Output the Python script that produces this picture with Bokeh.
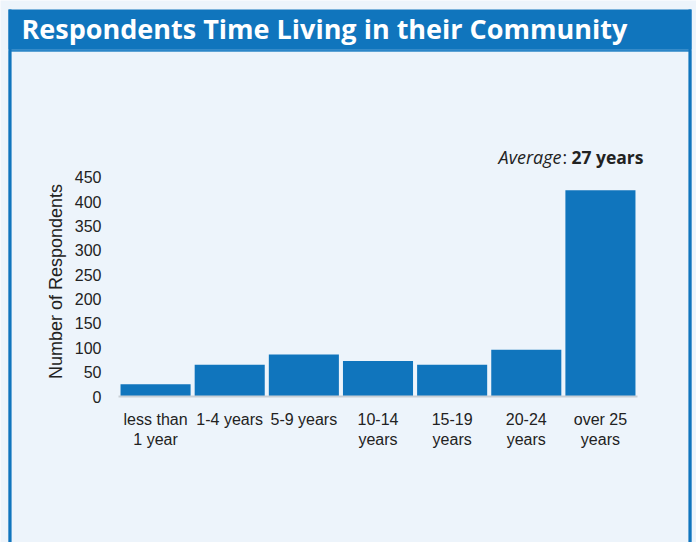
import math
from bokeh.plotting import figure
from bokeh.models import BoxAnnotation, Label, Range1d, FixedTicker
from bokeh.embed import file_html
from bokeh.resources import INLINE

categories = ["less than 1 year", "1-4 years", "5-9 years", "10-14 years",
              "15-19 years", "20-24 years", "over 25 years"]
tick_labels = ["less than\n1 year", "1-4 years", "5-9 years", "10-14\nyears",
               "15-19\nyears", "20-24\nyears", "over 25\nyears"]
respondents = [25, 65, 86, 73, 65, 96, 423]
y_ticks = [0, 50, 100, 150, 200, 250, 300, 350, 400, 450]
title_text = "Respondents Time Living in their Community"
y_title = "Number of Respondents"
avg_label = "Average"
avg_value = "27 years"

BLUE = "#1075bd"
BLUE_LIGHT = "#2c86c8"
BG = "#edf4fb"
TXT = "#222222"

W, H = 696, 542
# frame covers the whole canvas; plot region: x 118..637 px, y 396 (0) .. 176.7 (450) px
px_per_cat = (637 - 118) / len(categories)
px_per_unit = (396 - 176.7) / 450
x_start = -0.5 - 118 / px_per_cat
x_end = len(categories) - 0.5 + (W - 637) / px_per_cat
y_start = -(H - 396) / px_per_unit
y_end = 396 / px_per_unit

positions = list(range(len(categories)))

p = figure(width=W, height=H, x_range=Range1d(x_start, x_end), y_range=Range1d(y_start, y_end),
           output_backend="svg", toolbar_location=None, title=None,
           min_border=0, min_border_left=0, min_border_right=0, min_border_top=0, min_border_bottom=0)
p.background_fill_color = BG
p.border_fill_color = BG
p.outline_line_color = None
p.grid.visible = False

p.vbar(x=positions, top=respondents, width=0.945, fill_color=BLUE, line_color=None)

xa = p.xaxis[0]
xa.fixed_location = 0
xa.bounds = (-0.5, len(categories) - 0.5)
xa.ticker = FixedTicker(ticks=positions)
xa.major_label_overrides = {i: t for i, t in zip(positions, tick_labels)}
xa.axis_line_color = "#c9cfd6"
xa.axis_line_width = 2
xa.major_tick_line_color = None
xa.minor_tick_line_color = None
xa.major_label_text_font = "Liberation Sans"
xa.major_label_text_font_size = "16px"
xa.major_label_text_color = TXT
xa.major_label_standoff = 8

ya = p.yaxis[0]
ya.fixed_location = -0.5
ya.ticker = FixedTicker(ticks=y_ticks)
ya.axis_line_color = None
ya.major_tick_line_color = None
ya.minor_tick_line_color = None
ya.major_label_text_font = "Liberation Sans"
ya.major_label_text_font_size = "16px"
ya.major_label_text_color = TXT
ya.major_label_standoff = 11

# y axis title, centred on the plotting region
p.add_layout(Label(x=55, y=H - 281, x_units="screen", y_units="screen", text=y_title,
                   angle=math.pi / 2, text_color=TXT, text_font="Liberation Sans",
                   text_font_size="18px", text_baseline="middle", text_align="center"))

# panel border (screen units measured from the frame's bottom-left)
p.add_layout(BoxAnnotation(left=9.4, right=689.6, top=H - 50, bottom=-20,
                           left_units="screen", right_units="screen",
                           top_units="screen", bottom_units="screen",
                           fill_alpha=0, line_color=BLUE_LIGHT, line_width=2.6, line_alpha=1))
p.add_layout(BoxAnnotation(left=8, right=11, top=H - 9, bottom=-20,
                           left_units="screen", right_units="screen",
                           top_units="screen", bottom_units="screen",
                           fill_color=BLUE, fill_alpha=1, line_alpha=0))
p.add_layout(BoxAnnotation(left=688, right=691, top=H - 9, bottom=-20,
                           left_units="screen", right_units="screen",
                           top_units="screen", bottom_units="screen",
                           fill_color=BLUE, fill_alpha=1, line_alpha=0))
# title bar
p.add_layout(BoxAnnotation(left=8, right=691, top=H - 9, bottom=H - 49,
                           left_units="screen", right_units="screen",
                           top_units="screen", bottom_units="screen",
                           fill_color=BLUE, fill_alpha=1, line_alpha=0))

p.add_layout(Label(x=21, y=H - 28, x_units="screen", y_units="screen", text=title_text,
                   text_color="white", text_font="Open Sans", text_font_style="bold",
                   text_font_size="27px", text_baseline="middle", text_align="left"))

p.add_layout(Label(x=643, y=H - 156, x_units="screen", y_units="screen", text=avg_value,
                   text_color=TXT, text_font="Open Sans", text_font_style="bold",
                   text_font_size="17.5px", text_baseline="middle", text_align="right"))
p.add_layout(Label(x=562, y=H - 156, x_units="screen", y_units="screen", text=":",
                   text_color=TXT, text_font="Open Sans",
                   text_font_size="17.5px", text_baseline="middle", text_align="left"))
p.add_layout(Label(x=561, y=H - 156, x_units="screen", y_units="screen", text=avg_label,
                   text_color=TXT, text_font="Open Sans", text_font_style="italic",
                   text_font_size="18px", text_baseline="middle", text_align="right"))

open("out.html", "w").write(file_html(p, INLINE))
